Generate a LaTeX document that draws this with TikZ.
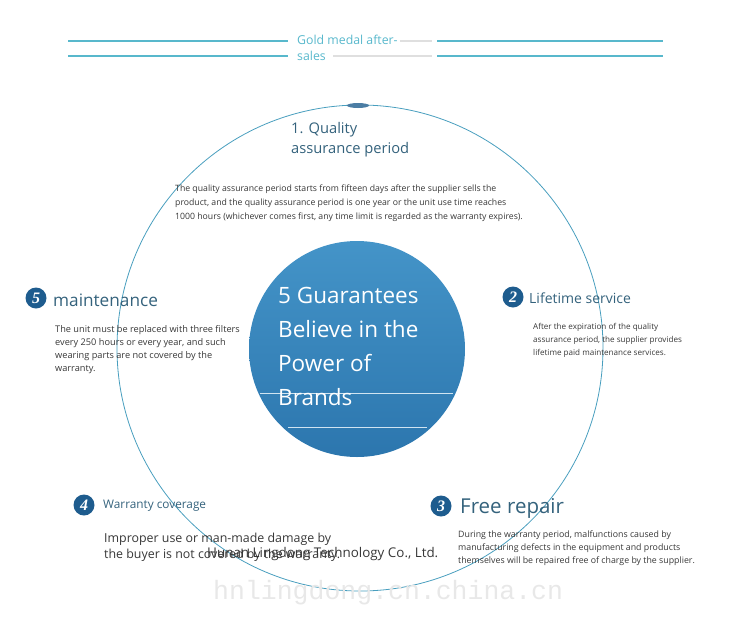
\documentclass[tikz,border=0pt]{standalone}
\usepackage{fontspec}
\setmainfont{Open Sans}
\newfontfamily\badgefont{Liberation Serif}
\newfontfamily\markfont{Liberation Mono}
\usetikzlibrary{calc,positioning}
\definecolor{ldteal}{RGB}{88,184,204}
\definecolor{ldring}{RGB}{72,158,190}
\definecolor{ldhead}{RGB}{52,98,124}
\definecolor{ldbadge}{RGB}{30,92,142}
\definecolor{ldtop}{RGB}{68,148,200}
\definecolor{ldbottom}{RGB}{44,118,174}
\definecolor{ldtext}{RGB}{55,55,55}

\begin{document}
\begin{tikzpicture}[x=1pt, y=-1pt,
    badge/.style={circle, fill=ldbadge, minimum size=21pt, inner sep=0pt, text=white, font=\badgefont\bfseries\itshape\fontsize{16}{16}\selectfont},
    headtext/.style={anchor=west, inner sep=0pt, text=ldhead},
    bodytext/.style={anchor=north west, inner sep=0pt, align=left, text=ldtext},
    topline/.style={ldteal, line width=1.3pt}
  ]
  \useasboundingbox (0,0) rectangle (750,627);

  % title with double lines
  \node[anchor=north west, inner sep=0pt, align=left, text=ldteal, font=\fontsize{12.3}{16}\selectfont] (title) at (297,35) {Gold medal after-\\sales};
  \draw[topline] (68,41) -- (288,41);
  \draw[topline] (68,56) -- (288,56);
  \draw[gray!25, line width=1.3pt] (400,41) -- (432,41);
  \draw[gray!25, line width=1.3pt] (333,56) -- (432,56);
  \draw[topline] (437,41) -- (663,41);
  \draw[topline] (437,56) -- (663,56);

  % outer ring and centre disc
  \draw[ldring, line width=0.8pt] (360,348) circle (243);
  \fill[ldbadge!80] (358,105.5) ellipse (11 and 2.5);
  \shade[top color=ldtop, bottom color=ldbottom] (357,349) circle (108);
  \draw[white!75!ldtop, line width=1pt] (260,393) -- (453,393);
  \draw[white!75!ldtop, line width=1pt] (288,427) -- (427,427);
  \node[anchor=north west, inner sep=0pt, align=left, text=white, font=\fontsize{22.5}{34}\selectfont] (centre) at (278,287) {5 Guarantees\\Believe in the\\Power of\\Brands};

  % 1. quality assurance period
  \node[anchor=north west, inner sep=0pt, align=left, text=ldhead, font=\fontsize{14.7}{20}\selectfont] (qhead) at (291,122) {1. Quality\\assurance period};
  \node[bodytext, font=\fontsize{8.7}{14}\selectfont] (qtext) at (175,185) {The quality assurance period starts from fifteen days after the supplier sells the\\product, and the quality assurance period is one year or the unit use time reaches\\1000 hours (whichever comes first, any time limit is regarded as the warranty expires).};

  % 2. lifetime service
  \node[badge] (lbadge) at (513,297) {2};
  \node[headtext, font=\fontsize{14}{14}\selectfont] (lhead) at (529,298) {Lifetime service};
  \node[bodytext, font=\fontsize{8.1}{13}\selectfont] (ltext) at (533,323) {After the expiration of the quality\\assurance period, the supplier provides\\lifetime paid maintenance services.};

  % 3. free repair
  \node[badge] (fbadge) at (441,506) {3};
  \node[headtext, font=\fontsize{20.5}{20.5}\selectfont] (fhead) at (460,508) {Free repair};
  \node[bodytext, font=\fontsize{8.8}{13}\selectfont] (ftext) at (458,531) {During the warranty period, malfunctions caused by\\manufacturing defects in the equipment and products\\themselves will be repaired free of charge by the supplier.};

  % 4. warranty coverage
  \node[badge] (wbadge) at (84,505) {4};
  \node[headtext, font=\fontsize{11.8}{11.8}\selectfont] (whead) at (103,506) {Warranty coverage};
  \node[bodytext, font=\fontsize{12.4}{16}\selectfont] (wtext) at (104,533) {Improper use or man-made damage by\\the buyer is not covered by the warranty.};
  \node[anchor=west, inner sep=0pt, text=ldtext, font=\fontsize{13.4}{13.4}\selectfont] (company) at (207,554) {Hunan Lingdong Technology Co., Ltd.};

  % 5. maintenance
  \node[badge] (mbadge) at (36,298) {5};
  \node[headtext, font=\fontsize{17.2}{17.2}\selectfont] (mhead) at (53,300) {maintenance};
  \node[bodytext, font=\fontsize{9.2}{13}\selectfont] (mtext) at (55,325) {The unit must be replaced with three filters\\every 250 hours or every year, and such\\wearing parts are not covered by the\\warranty.};

  % watermark
  \node[anchor=west, inner sep=0pt, text=gray!18, font=\markfont\fontsize{26.5}{26.5}\selectfont] (mark) at (213,593) {hnlingdong.cn.china.cn};
\end{tikzpicture}
\end{document}
